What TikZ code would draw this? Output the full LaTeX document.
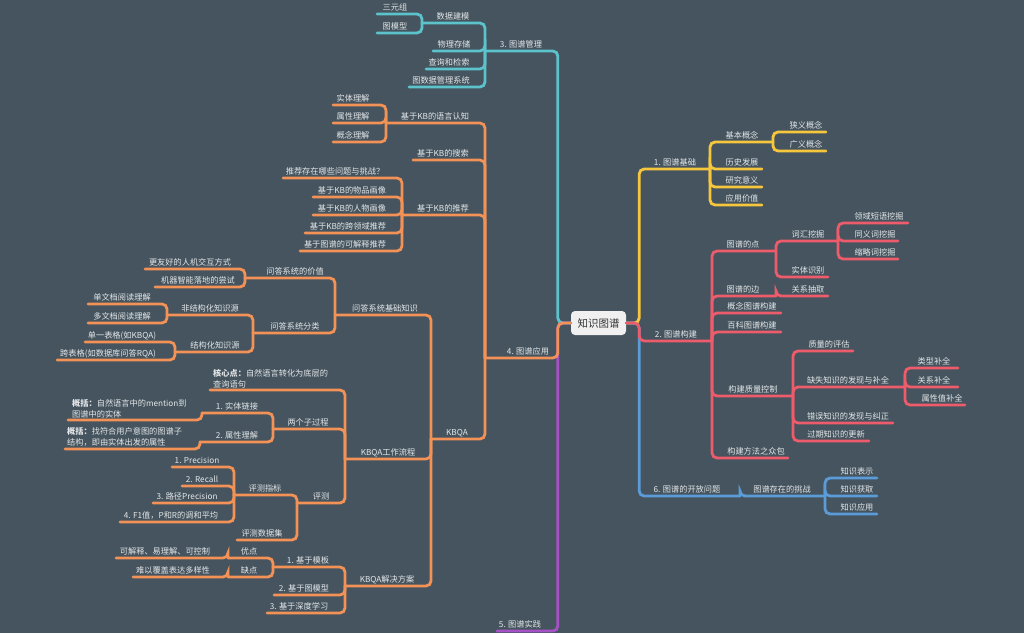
\documentclass[tikz,border=0pt]{standalone}
\usepackage{fontspec}
\setmainfont{Noto Sans CJK SC}
\definecolor{bg}{HTML}{45545E}
\definecolor{tlc}{HTML}{5CC3CC}
\definecolor{orc}{HTML}{F39257}
\definecolor{ylc}{HTML}{F6C63C}
\definecolor{rdc}{HTML}{EE5B6B}
\definecolor{blc}{HTML}{5B9BD8}
\definecolor{ppc}{HTML}{A652C6}
\definecolor{txc}{HTML}{E4E7EA}
\tikzset{
  conn/.style={line width=2.8pt, rounded corners=5pt, line cap=round},
  tl/.style={conn, draw=tlc},
  orl/.style={conn, draw=orc},
  yl/.style={conn, draw=ylc},
  rd/.style={conn, draw=rdc},
  bl/.style={conn, draw=blc},
  pp/.style={conn, draw=ppc},
  lbl/.style={text=txc, font=\fontsize{8.2}{11}\selectfont, inner sep=0pt, anchor=base},
  lbll/.style={lbl, anchor=south west, align=left},
  rootbox/.style={fill=white!94!black, rounded corners=4pt, minimum width=55pt,
    minimum height=24pt, inner sep=0pt, text=black!80, font=\fontsize{10.5}{12}\selectfont},
}
% #1 style, #2 parent junction, #3 name, #4 far x, #5 y, #6 text x, #7 text
\newcommand\mmbr[7]{%
  \coordinate (#3) at (#4,#5);
  \draw[#1] (#2) |- (#3);
  \node[lbl] (#3t) at (#6,#5-3.2) {#7};}
\begin{document}
\begin{tikzpicture}[x=1pt,y=-1pt]
\useasboundingbox (0,0) rectangle (1024,633);
\fill[bg] (0,0) rectangle (1024,633);
\node[rootbox] (root) at (598.5,323) {知识图谱};

% ---------- left: root branches ----------
\coordinate (mgmt) at (485,51);
\coordinate (app) at (485,358);
\coordinate (prac) at (497,631);
\draw[tl] (root.west) -- ++(-13,0) |- (mgmt);
\draw[pp] (root.west) -- ++(-13,0) |- (prac);
\draw[orl] (root.west) -- ++(-13,0) |- (app);
\node[lbl] (mgmtt) at (521,47.8) {3. 图谱管理};
\node[lbl] (appt) at (528,354.8) {4. 图谱应用};
\node[lbl] (pract) at (520,627.8) {5. 图谱实践};

% ---------- 3. 图谱管理 ----------
\mmbr{tl}{mgmt}{dm}{422}{23}{453}{数据建模}
\mmbr{tl}{dm}{sy}{377}{14}{395}{三元组}
\mmbr{tl}{dm}{tm}{377}{33}{395}{图模型}
\mmbr{tl}{mgmt}{ps}{433}{51}{454}{物理存储}
\mmbr{tl}{mgmt}{qr}{426}{69}{449}{查询和检索}
\mmbr{tl}{mgmt}{gd}{409}{87}{441}{图数据管理系统}

% ---------- 4. 图谱应用 ----------
\mmbr{orl}{app}{lc}{386}{123}{435}{基于KB的语言认知}
\mmbr{orl}{lc}{stu}{333}{105}{353}{实体理解}
\mmbr{orl}{lc}{atu}{333}{123}{353}{属性理解}
\mmbr{orl}{lc}{ctu}{333}{142}{353}{概念理解}
\mmbr{orl}{app}{sr}{413}{160}{443}{基于KB的搜索}
\mmbr{orl}{app}{rc}{402}{215}{443}{基于KB的推荐}
\mmbr{orl}{rc}{rca}{283}{178}{335}{推荐存在哪些问题与挑战？}
\mmbr{orl}{rc}{rcb}{313}{197}{352}{基于KB的物品画像}
\mmbr{orl}{rc}{rcc}{313}{215}{352}{基于KB的人物画像}
\mmbr{orl}{rc}{rcd}{305}{233}{348}{基于KB的跨领域推荐}
\mmbr{orl}{rc}{rce}{300}{251}{345}{基于图谱的可解释推荐}
\mmbr{orl}{app}{kb}{431}{439}{457}{KBQA}

% 问答系统基础知识
\mmbr{orl}{kb}{qa}{335}{315}{385}{问答系统基础知识}
\mmbr{orl}{qa}{qv}{245}{278}{295}{问答系统的价值}
\mmbr{orl}{qv}{qva}{145}{269}{190}{更友好的人机交互方式}
\mmbr{orl}{qv}{qvb}{155}{287}{198}{机器智能落地的尝试}
\mmbr{orl}{qa}{qcls}{253}{333}{295}{问答系统分类}
\mmbr{orl}{qcls}{us}{167}{315}{210}{非结构化知识源}
\mmbr{orl}{us}{usa}{88}{304}{122}{单文档阅读理解}
\mmbr{orl}{us}{usb}{88}{323}{122}{多文档阅读理解}
\mmbr{orl}{qcls}{ss}{175}{352}{215}{结构化知识源}
\mmbr{orl}{ss}{ssa}{85}{342}{122}{单一表格(如KBQA)}
\mmbr{orl}{ss}{ssb}{57}{360}{108}{跨表格(如数据库问答RQA)}

% KBQA工作流程
\mmbr{orl}{kb}{wf}{345}{459}{388}{KBQA工作流程}
\coordinate (core) at (210,390);
\draw[orl] (wf) |- (core);
\node[lbll] (coret) at (213,388) {\textbf{核心点：}自然语言转化为底层的\\查询语句};
\mmbr{orl}{wf}{two}{273}{429}{308}{两个子过程}
\mmbr{orl}{two}{el}{202}{413}{237}{1. 实体链接}
\coordinate (ela) at (68,420);
\draw[orl] (el) |- (ela);
\node[lbll] (elat) at (72,418) {\textbf{概括：}自然语言中的mention到\\图谱中的实体};
\mmbr{orl}{two}{apr}{200}{442}{237}{2. 属性理解}
\coordinate (apa) at (65,449);
\draw[orl] (apr) |- (apa);
\node[lbll] (apat) at (67,447) {\textbf{概括：}找符合用户意图的图谱子\\结构，即由实体出发的属性};
\mmbr{orl}{wf}{ev}{297}{503}{321}{评测}
\mmbr{orl}{ev}{em}{234}{495}{265}{评测指标}
\mmbr{orl}{em}{ema}{172}{467}{197}{1. Precision}
\mmbr{orl}{em}{emb}{182}{486}{202}{2. Recall}
\mmbr{orl}{em}{emc}{153}{503}{187}{3. 路径Precision}
\mmbr{orl}{em}{emd}{120}{522}{171}{4. F1值，P和R的调和平均}
\mmbr{orl}{ev}{ed}{237}{540}{262}{评测数据集}

% KBQA解决方案
\mmbr{orl}{kb}{sol}{345}{586}{387}{KBQA解决方案}
\mmbr{orl}{sol}{sa}{273}{567}{308}{1. 基于模板}
\mmbr{orl}{sa}{pro}{228}{558}{249}{优点}
\mmbr{orl}{pro}{proa}{116}{558}{165}{可解释、易理解、可控制}
\mmbr{orl}{sa}{con}{228}{577}{249}{缺点}
\mmbr{orl}{con}{cona}{133}{577}{173}{难以覆盖表达多样性}
\mmbr{orl}{sol}{sb}{274}{595}{304}{2. 基于图模型}
\mmbr{orl}{sol}{sc}{267}{613}{299}{3. 基于深度学习}

% ---------- right: root branches ----------
\coordinate (basic) at (710,169);
\coordinate (build) at (712,341);
\coordinate (open) at (740,496);
\draw[yl] (root.east) -- ++(13,0) |- (basic);
\draw[bl] (root.east) -- ++(13,0) |- (open);
\draw[rd] (root.east) -- ++(13,0) |- (build);
\node[lbl] (basict) at (675,165.8) {1. 图谱基础};
\node[lbl] (buildt) at (676,337.8) {2. 图谱构建};
\node[lbl] (opent) at (687,492.8) {6. 图谱的开放问题};

% ---------- 1. 图谱基础 ----------
\mmbr{yl}{basic}{bc}{773}{142}{742}{基本概念}
\mmbr{yl}{bc}{bca}{826}{132}{806}{狭义概念}
\mmbr{yl}{bc}{bcb}{826}{151}{806}{广义概念}
\mmbr{yl}{basic}{hd}{762}{169}{742}{历史发展}
\mmbr{yl}{basic}{rs}{762}{187}{742}{研究意义}
\mmbr{yl}{basic}{av}{762}{205}{742}{应用价值}

% ---------- 2. 图谱构建 ----------
\mmbr{rd}{build}{pt}{776}{251}{743}{图谱的点}
\mmbr{rd}{pt}{vm}{838}{241}{808}{词汇挖掘}
\mmbr{rd}{vm}{vma}{908}{223}{879}{领域短语挖掘}
\mmbr{rd}{vm}{vmb}{898}{241}{875}{同义词挖掘}
\mmbr{rd}{vm}{vmc}{898}{259}{875}{缩略词挖掘}
\mmbr{rd}{pt}{er}{828}{277}{808}{实体识别}
\mmbr{rd}{build}{eg}{776}{296}{743}{图谱的边}
\mmbr{rd}{eg}{rex}{828}{296}{808}{关系抽取}
\mmbr{rd}{build}{cg}{781}{313}{752}{概念图谱构建}
\mmbr{rd}{build}{eb}{781}{332}{752}{百科图谱构建}
\mmbr{rd}{build}{qctl}{793}{396}{753}{构建质量控制}
\mmbr{rd}{qctl}{qa1}{853}{351}{829}{质量的评估}
\mmbr{rd}{qctl}{qa2}{905}{387}{848}{缺失知识的发现与补全}
\mmbr{rd}{qa2}{qba}{958}{368}{934}{类型补全}
\mmbr{rd}{qa2}{qbb}{958}{387}{934}{关系补全}
\mmbr{rd}{qa2}{qbc}{965}{405}{942}{属性值补全}
\mmbr{rd}{qctl}{qa3}{893}{423}{848}{错误知识的发现与纠正}
\mmbr{rd}{qctl}{qa4}{869}{441}{836}{过期知识的更新}
\mmbr{rd}{build}{cs}{788}{458}{756}{构建方法之众包}

% ---------- 6. 图谱的开放问题 ----------
\mmbr{bl}{open}{ch}{825}{496}{782}{图谱存在的挑战}
\mmbr{bl}{ch}{cha}{877}{478}{857}{知识表示}
\mmbr{bl}{ch}{chb}{877}{496}{857}{知识获取}
\mmbr{bl}{ch}{chc}{877}{514}{857}{知识应用}
\end{tikzpicture}
\end{document}
